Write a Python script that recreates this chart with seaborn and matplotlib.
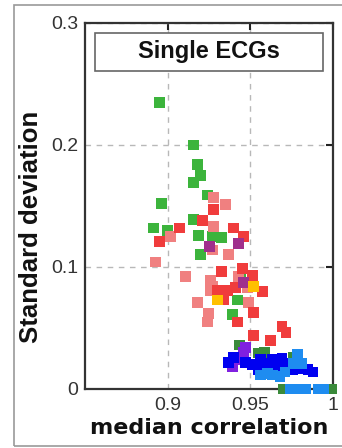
import numpy as np
import pandas as pd
import matplotlib
matplotlib.use("Agg")
import matplotlib.pyplot as plt
from matplotlib.patches import Rectangle
import seaborn as sns

# ---- data ----
green_x = [0.8952, 0.9157, 0.9181, 0.9199, 0.9157, 0.8964, 0.8916, 0.9000, 0.9157,
           0.9187, 0.9271, 0.9325, 0.9199, 0.9241, 0.9391, 0.9421, 0.9439]
green_y = [0.235, 0.200, 0.184, 0.175, 0.169, 0.152, 0.132, 0.130, 0.139,
           0.126, 0.125, 0.124, 0.110, 0.159, 0.061, 0.073, 0.091]

salmon_x = [0.9277, 0.9349, 0.9277, 0.9018, 0.8928, 0.9271, 0.9367, 0.9108, 0.9259,
            0.9259, 0.9427, 0.9482, 0.9181, 0.9247, 0.9241, 0.9488, 0.9271]
salmon_y = [0.157, 0.151, 0.133, 0.125, 0.104, 0.114, 0.110, 0.092, 0.089,
            0.081, 0.092, 0.083, 0.071, 0.062, 0.055, 0.071, 0.084]

red_x = [0.9072, 0.8952, 0.9277, 0.9211, 0.9397, 0.9458, 0.9325, 0.9452, 0.9512,
         0.9572, 0.9301, 0.9361, 0.9409, 0.9337, 0.9518, 0.9421, 0.9692, 0.9716,
         0.9518, 0.9620]
red_y = [0.132, 0.121, 0.147, 0.138, 0.132, 0.125, 0.096, 0.099, 0.093,
         0.080, 0.081, 0.081, 0.083, 0.073, 0.063, 0.055, 0.051, 0.046,
         0.044, 0.040]

purple_x = [0.9253, 0.9427, 0.9458]
purple_y = [0.117, 0.119, 0.087]

yellow_x = [0.9518, 0.9301]
yellow_y = [0.084, 0.073]

dkgreen_x = [0.9433, 0.9548, 0.9584, 0.9759, 0.9698, 0.9993]
dkgreen_y = [0.036, 0.0295, 0.030, 0.026, 0.0, 0.0]

violet_x = [0.9470, 0.9458, 0.9439, 0.9391]
violet_y = [0.034, 0.030, 0.024, 0.018]

blue_x = [0.9367, 0.9397, 0.9512, 0.9548, 0.9590, 0.9632, 0.9650, 0.9692, 0.9722,
          0.9753, 0.9801, 0.9849, 0.9879, 0.9602, 0.9470, 0.9560, 0.9680, 0.9780]
blue_y = [0.022, 0.026, 0.020, 0.016, 0.021, 0.024, 0.018, 0.025, 0.021,
          0.016, 0.017, 0.016, 0.014, 0.017, 0.022, 0.024, 0.020, 0.020]

ltblue_x = [0.9632, 0.9710, 0.9783, 0.9813, 0.9680, 0.9602, 0.9560, 0.9759,
            0.9740, 0.9789, 0.9837, 0.9909, 0.9945]
ltblue_y = [0.0115, 0.014, 0.028, 0.021, 0.010, 0.013, 0.0115, 0.021,
            0.0, 0.0, 0.0, 0.0, 0.0]

groups = ["green", "salmon", "red", "purple", "yellow", "dkgreen", "violet", "blue", "ltblue"]
palette = {"green": "#3cb43c", "salmon": "#f08080", "red": "#f03c3c",
           "purple": "#a0308c", "yellow": "#ffc000", "dkgreen": "#3a8a3a",
           "violet": "#8020e0", "blue": "#0000f0", "ltblue": "#1e8cf0"}

xs = [green_x, salmon_x, red_x, purple_x, yellow_x, dkgreen_x, violet_x, blue_x, ltblue_x]
ys = [green_y, salmon_y, red_y, purple_y, yellow_y, dkgreen_y, violet_y, blue_y, ltblue_y]

frames = []
for g, x, y in zip(groups, xs, ys):
    frames.append(pd.DataFrame({"x": x, "y": y, "grp": g}))
df = pd.concat(frames, ignore_index=True)

x_ticks = [0.9, 0.95, 1.0]
x_ticklabels = ["0.9", "0.95", "1"]
y_ticks = [0.0, 0.1, 0.2, 0.3]
y_ticklabels = ["0", "0.1", "0.2", "0.3"]

# ---- figure ----
sns.set_style("white")
plt.rcParams["font.family"] = ["Liberation Sans", "DejaVu Sans"]

fig = plt.figure(figsize=(3.42, 4.48), dpi=100)
ax = fig.add_axes([0.2485, 0.1317, 0.7252, 0.8170])

sns.scatterplot(data=df, x="x", y="y", hue="grp", palette=palette, marker="s",
                s=60, linewidth=0, legend=False, ax=ax)
for c in ax.collections:
    c.set_clip_on(False)
    c.set_zorder(3)

ax.set_xlim(0.85, 1.0)
ax.set_ylim(0.0, 0.3)
ax.set_xticks(x_ticks)
ax.set_xticklabels(x_ticklabels)
ax.set_yticks(y_ticks)
ax.set_yticklabels(y_ticklabels)

ax.tick_params(axis="both", direction="in", length=5, width=1.5, color="#222222",
               labelsize=14, labelcolor="#333333", top=True, right=True)
ax.tick_params(axis="x", pad=6)
ax.tick_params(axis="y", pad=5)

for sp in ax.spines.values():
    sp.set_visible(True)
    sp.set_linewidth(1.6)
    sp.set_color("#333333")

ax.grid(True, linestyle=(0, (4, 4)), color="#b8b8b8", linewidth=1.0)
ax.set_axisbelow(True)

ax.set_xlabel("median correlation", fontsize=16, fontweight="bold",
              family=["DejaVu Sans"], labelpad=3, color="#111111")
ax.set_ylabel("Standard deviation", fontsize=18.5, fontweight="bold",
              labelpad=4, color="#111111")
ax.yaxis.set_label_coords(-0.17, 0.443)

# title box
ax.add_patch(Rectangle((0.040, 0.869), 0.919, 0.104, transform=ax.transAxes,
                       facecolor="white", edgecolor="#666666", linewidth=1.2, zorder=5))
ax.text(0.4995, 0.921, "Single ECGs", transform=ax.transAxes, ha="center", va="center",
        fontsize=17, fontweight="bold", color="#111111", zorder=6)

# outer frame
fig.patches.append(Rectangle((14 / 342, 2 / 448), 1.2, 441 / 448, transform=fig.transFigure,
                             fill=False, edgecolor="#999999", linewidth=1.2))

fig.savefig("out.png", dpi=100)
